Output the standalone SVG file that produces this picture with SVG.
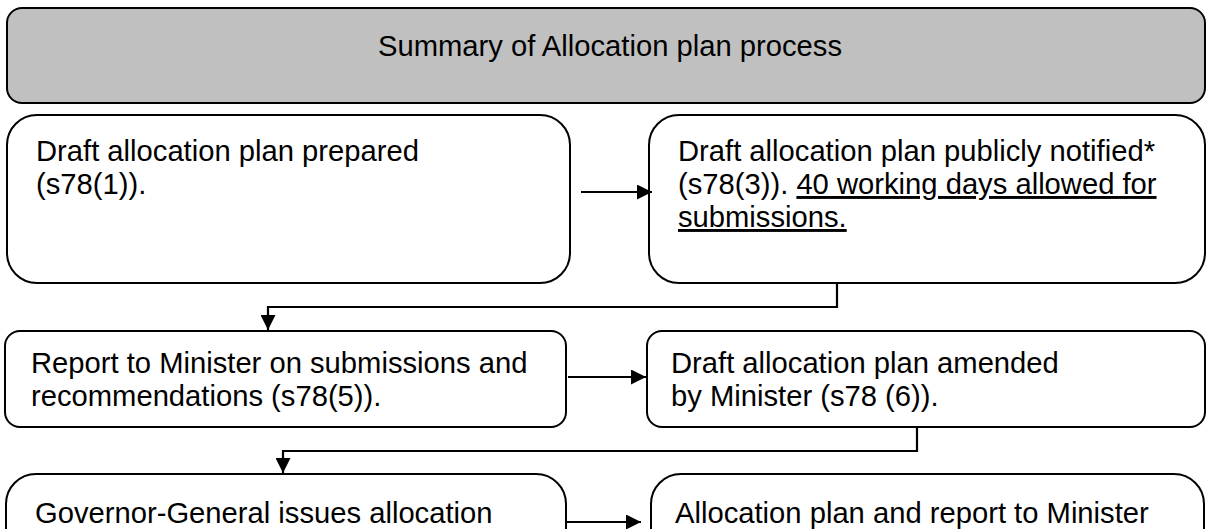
<svg xmlns="http://www.w3.org/2000/svg" width="1208" height="529" viewBox="0 0 1208 529">
<style>
.box{fill:#fff;stroke:#000;stroke-width:2}
.title{fill:#c0c0c0;stroke:#000;stroke-width:2}
text{font-family:"Liberation Sans",Arial,sans-serif;font-size:29.2px;fill:#000}
.conn{fill:none;stroke:#000;stroke-width:2.2}
.u{text-decoration:underline}
</style>
<defs>
<marker id="ah" viewBox="0 0 15 15" refX="15" refY="7.5" markerWidth="15" markerHeight="15" markerUnits="userSpaceOnUse" orient="auto">
<path d="M0,0 L15,7.5 L0,15 Z" fill="#000"/>
</marker>
</defs>
<g id="title-node">
<rect class="title" x="7" y="8" width="1198" height="95" rx="15"/>
<text x="610" y="56" text-anchor="middle">Summary of Allocation plan process</text>
</g>
<g id="n1">
<rect class="box" x="7" y="115" width="563" height="168" rx="30"/>
<text x="36" y="161">Draft allocation plan prepared</text>
<text x="36" y="194">(s78(1)).</text>
</g>
<g id="n2">
<rect class="box" x="649" y="115" width="556" height="168" rx="30"/>
<text x="678" y="161">Draft allocation plan publicly notified*</text>
<text x="678" y="194">(s78(3)). <tspan class="u">40 working days allowed for</tspan></text>
<text x="678" y="227" class="u">submissions.</text>
</g>
<g id="n3">
<rect class="box" x="5" y="331" width="561" height="96" rx="15"/>
<text x="31" y="373">Report to Minister on submissions and</text>
<text x="31" y="406">recommendations (s78(5)).</text>
</g>
<g id="n4">
<rect class="box" x="647" y="331" width="558" height="96" rx="15"/>
<text x="671" y="373">Draft allocation plan amended</text>
<text x="671" y="406">by Minister (s78 (6)).</text>
</g>
<g id="n5">
<rect class="box" x="6" y="474" width="560" height="120" rx="30"/>
<text x="35" y="523">Governor-General issues allocation</text>
</g>
<g id="n6">
<rect class="box" x="651" y="474" width="553" height="120" rx="30"/>
<text x="675" y="523">Allocation plan and report to Minister</text>
</g>
<g id="connectors">
<line class="conn" x1="581" y1="192" x2="652" y2="192" marker-end="url(#ah)"/>
<polyline class="conn" points="837,283 837,307 268,307 268,330" marker-end="url(#ah)"/>
<line class="conn" x1="568" y1="377" x2="646" y2="377" marker-end="url(#ah)"/>
<polyline class="conn" points="917,427 917,451 283,451 283,473" marker-end="url(#ah)"/>
<line class="conn" x1="567" y1="522" x2="641" y2="522" marker-end="url(#ah)"/>
</g>
</svg>
